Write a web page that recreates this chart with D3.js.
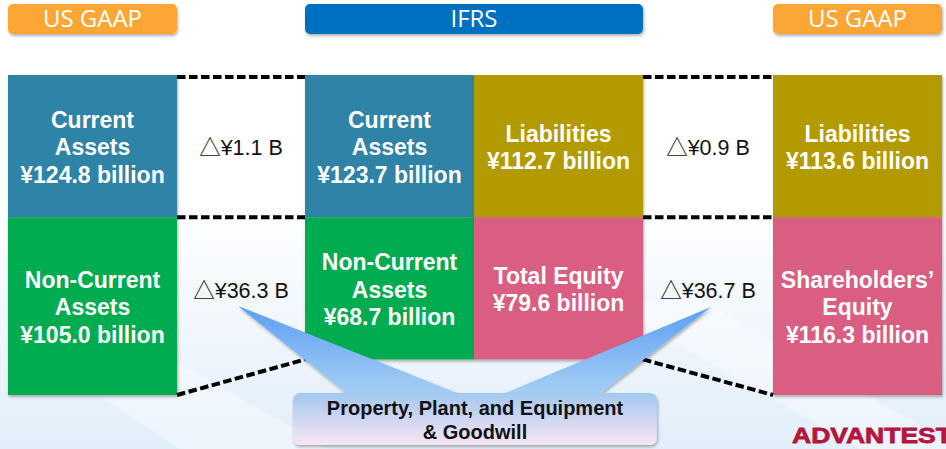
<!DOCTYPE html>
<html>
<head>
<meta charset="utf-8">
<script src="https://cdn.jsdelivr.net/npm/d3@7"></script>
<style>
  html, body { margin: 0; padding: 0; background: #fff; }
  svg { display: block; }
</style>
</head>
<body>
<script>
// chart values
var headers = ["US GAAP", "IFRS", "US GAAP"];
var blockNames = [
  ["Current", "Assets"], ["Non-Current", "Assets"],
  ["Current", "Assets"], ["Non-Current", "Assets"],
  ["Liabilities"], ["Total Equity"],
  ["Liabilities"], ["Shareholders\u2019", "Equity"]
];
var blockValues = [124.8, 105.0, 123.7, 68.7, 112.7, 79.6, 113.6, 116.3];
var blockKinds = ["current", "noncurrent", "current", "noncurrent", "liab", "equity", "liab", "equity"];
var deltaValues = [1.1, 36.3, 0.9, 36.7];
var calloutLines = ["Property, Plant, and Equipment", "& Goodwill"];

// layout (not data)
var blockCol = [0, 0, 1, 1, 2, 2, 3, 3];
var blockStart = [0, 1, 0, 1, 0, 1, 0, 1];
var blockSpan = [1, 1.25, 1, 1, 1, 1, 1, 1.25];

var W = 946, H = 449;
var colors = { current: "#2D83A6", noncurrent: "#00AC4F", liab: "#B39A00", equity: "#DA5D82" };

var x = d3.scaleOrdinal().domain([0, 1, 2, 3]).range([8, 305, 474, 773]);
var colW = 169;
var y = d3.scaleLinear().domain([0, 2.25]).range([75, 395]);

var svg = d3.select("body").append("svg")
  .attr("width", W).attr("height", H)
  .attr("viewBox", "0 0 " + W + " " + H);

var defs = svg.append("defs");
var bg = defs.append("linearGradient").attr("id", "bg")
  .attr("x1", 0).attr("y1", 0).attr("x2", 0).attr("y2", 1);
bg.append("stop").attr("offset", "0.45").attr("stop-color", "#ffffff");
bg.append("stop").attr("offset", "1").attr("stop-color", "#E2EEFA");

var wedgeGrad = defs.append("linearGradient").attr("id", "wedge")
  .attr("gradientUnits", "userSpaceOnUse")
  .attr("x1", 0).attr("y1", 305).attr("x2", 0).attr("y2", 395);
wedgeGrad.append("stop").attr("offset", "0").attr("stop-color", "#5A9EF2");
wedgeGrad.append("stop").attr("offset", "1").attr("stop-color", "#A7CFF5");

var boxGrad = defs.append("linearGradient").attr("id", "box")
  .attr("x1", 0).attr("y1", 0).attr("x2", 0).attr("y2", 1);
boxGrad.append("stop").attr("offset", "0").attr("stop-color", "#A3C8EF");
boxGrad.append("stop").attr("offset", "1").attr("stop-color", "#F8E5F4");

var shadow = defs.append("filter").attr("id", "shadow")
  .attr("x", "-10%").attr("y", "-10%").attr("width", "130%").attr("height", "140%");
shadow.append("feDropShadow").attr("dx", 1).attr("dy", 2)
  .attr("stdDeviation", 1.5).attr("flood-color", "#000").attr("flood-opacity", 0.3);

// background
svg.append("rect").attr("width", W).attr("height", H).attr("fill", "url(#bg)");
var streaks = [
  [[0, 330], [120, 330], [330, 449], [180, 449]],
  [[600, 300], [700, 300], [946, 440], [946, 449], [860, 449]]
];
svg.selectAll("polygon.streak").data(streaks).join("polygon")
  .attr("class", "streak")
  .attr("points", function (d) { return d.join(" "); })
  .attr("fill", "#ffffff").attr("opacity", 0.35);

// header tabs
var headerX = [8, 305, 773];
var headerW = [169, 338, 169];
var headerFill = ["#FBA634", "#0070C0", "#FBA634"];
var hdr = svg.selectAll("g.hdr").data(headers).join("g").attr("class", "hdr");
hdr.append("rect")
  .attr("x", function (d, i) { return headerX[i]; })
  .attr("y", 4).attr("width", function (d, i) { return headerW[i]; })
  .attr("height", 30).attr("rx", 5)
  .attr("fill", function (d, i) { return headerFill[i]; })
  .attr("filter", "url(#shadow)");
hdr.append("text")
  .attr("x", function (d, i) { return headerX[i] + headerW[i] / 2; })
  .attr("y", 19).attr("dy", "0.35em")
  .attr("text-anchor", "middle")
  .attr("font-family", "'Open Sans', sans-serif")
  .attr("font-size", 24).attr("fill", "#fff")
  .text(function (d) { return d; });

// blocks
var blocks = blockValues.map(function (v, i) {
  return { value: v, name: blockNames[i], kind: blockKinds[i], col: blockCol[i], start: blockStart[i], span: blockSpan[i] };
});
var bg2 = svg.selectAll("g.block").data(blocks).join("g").attr("class", "block");
bg2.append("rect")
  .attr("x", function (d) { return x(d.col); })
  .attr("y", function (d) { return y(d.start); })
  .attr("width", colW)
  .attr("height", function (d) { return y(d.start + d.span) - y(d.start); })
  .attr("fill", function (d) { return colors[d.kind]; })
  .attr("filter", "url(#shadow)");
bg2.each(function (d) {
  var lines = d.name.concat(["\u00a5" + d.value.toFixed(1) + " billion"]);
  var cy = (y(d.start) + y(d.start + d.span)) / 2 + 1;
  var lh = 27.5;
  d3.select(this).selectAll("text").data(lines).join("text")
    .attr("x", x(d.col) + colW / 2)
    .attr("y", function (t, j) { return cy + (j - (lines.length - 1) / 2) * lh; })
    .attr("dy", "0.36em")
    .attr("text-anchor", "middle")
    .attr("font-family", "'Liberation Sans', Arial, sans-serif")
    .attr("font-weight", "bold").attr("font-size", 23)
    .attr("fill", "#fff")
    .text(function (t) { return t; });
});

// dashed connectors between columns
var gaps = [[0, 1], [2, 3]];
var connectors = [];
gaps.forEach(function (g, gi) {
  var lx = x(g[0]) + colW, rx = x(g[1]);
  var leftEnd = gi === 0 ? 2.25 : 2, rightEnd = gi === 0 ? 2 : 2.25;
  connectors.push([[lx, y(0) + 2], [rx, y(0) + 2]]);
  connectors.push([[lx, y(1)], [rx, y(1)]]);
  connectors.push([[lx, y(leftEnd)], [rx, y(rightEnd)]]);
});
svg.selectAll("path.dash").data(connectors).join("path")
  .attr("class", "dash")
  .attr("d", d3.line())
  .attr("stroke", "#000").attr("stroke-width", 4)
  .attr("stroke-dasharray", "8.5 3.5").attr("fill", "none");

// delta labels
var deltaPos = [[0, 0], [0, 1], [1, 0], [1, 1]];
svg.selectAll("text.delta").data(deltaValues).join("text")
  .attr("class", "delta")
  .attr("x", function (d, i) { var g = gaps[deltaPos[i][0]]; return (x(g[0]) + colW + x(g[1])) / 2; })
  .attr("y", function (d, i) { return deltaPos[i][1] === 0 ? (y(0) + y(1)) / 2 + 1 : (y(1) + y(2)) / 2 + 2; })
  .attr("dy", "0.36em")
  .attr("text-anchor", "middle")
  .attr("font-family", "'Liberation Sans', 'Noto Sans CJK JP', sans-serif")
  .attr("font-size", 21.5).attr("fill", "#111")
  .text(function (d) { return "\u25B3\u00a5" + d.toFixed(1) + " B"; });

// callout wedges
var wedges = [
  [[238, 306], [465, 396], [350, 396]],
  [[711, 307], [597, 396], [498, 396]]
];
svg.selectAll("polygon.wedge").data(wedges).join("polygon")
  .attr("class", "wedge")
  .attr("points", function (d) { return d.join(" "); })
  .attr("fill", "url(#wedge)")
  .attr("filter", "url(#shadow)");

// callout box
svg.append("rect")
  .attr("x", 293).attr("y", 393).attr("width", 364).attr("height", 52).attr("rx", 7)
  .attr("fill", "url(#box)").attr("filter", "url(#shadow)");
svg.selectAll("text.callout").data(calloutLines).join("text")
  .attr("class", "callout")
  .attr("x", 475).attr("y", function (d, i) { return 408 + i * 24; })
  .attr("dy", "0.36em")
  .attr("text-anchor", "middle")
  .attr("font-family", "'Liberation Sans', Arial, sans-serif")
  .attr("font-weight", "bold").attr("font-size", 20).attr("fill", "#111")
  .text(function (d) { return d; });

// logo
svg.append("text")
  .attr("x", 792).attr("y", 443)
  .attr("font-family", "'Liberation Sans', Arial, sans-serif")
  .attr("font-weight", "bold").attr("font-size", 22)
  .attr("textLength", 160).attr("lengthAdjust", "spacingAndGlyphs")
  .attr("fill", "#B3173D").attr("stroke", "#B3173D").attr("stroke-width", 0.8)
  .text("ADVANTEST");
</script>
</body>
</html>
